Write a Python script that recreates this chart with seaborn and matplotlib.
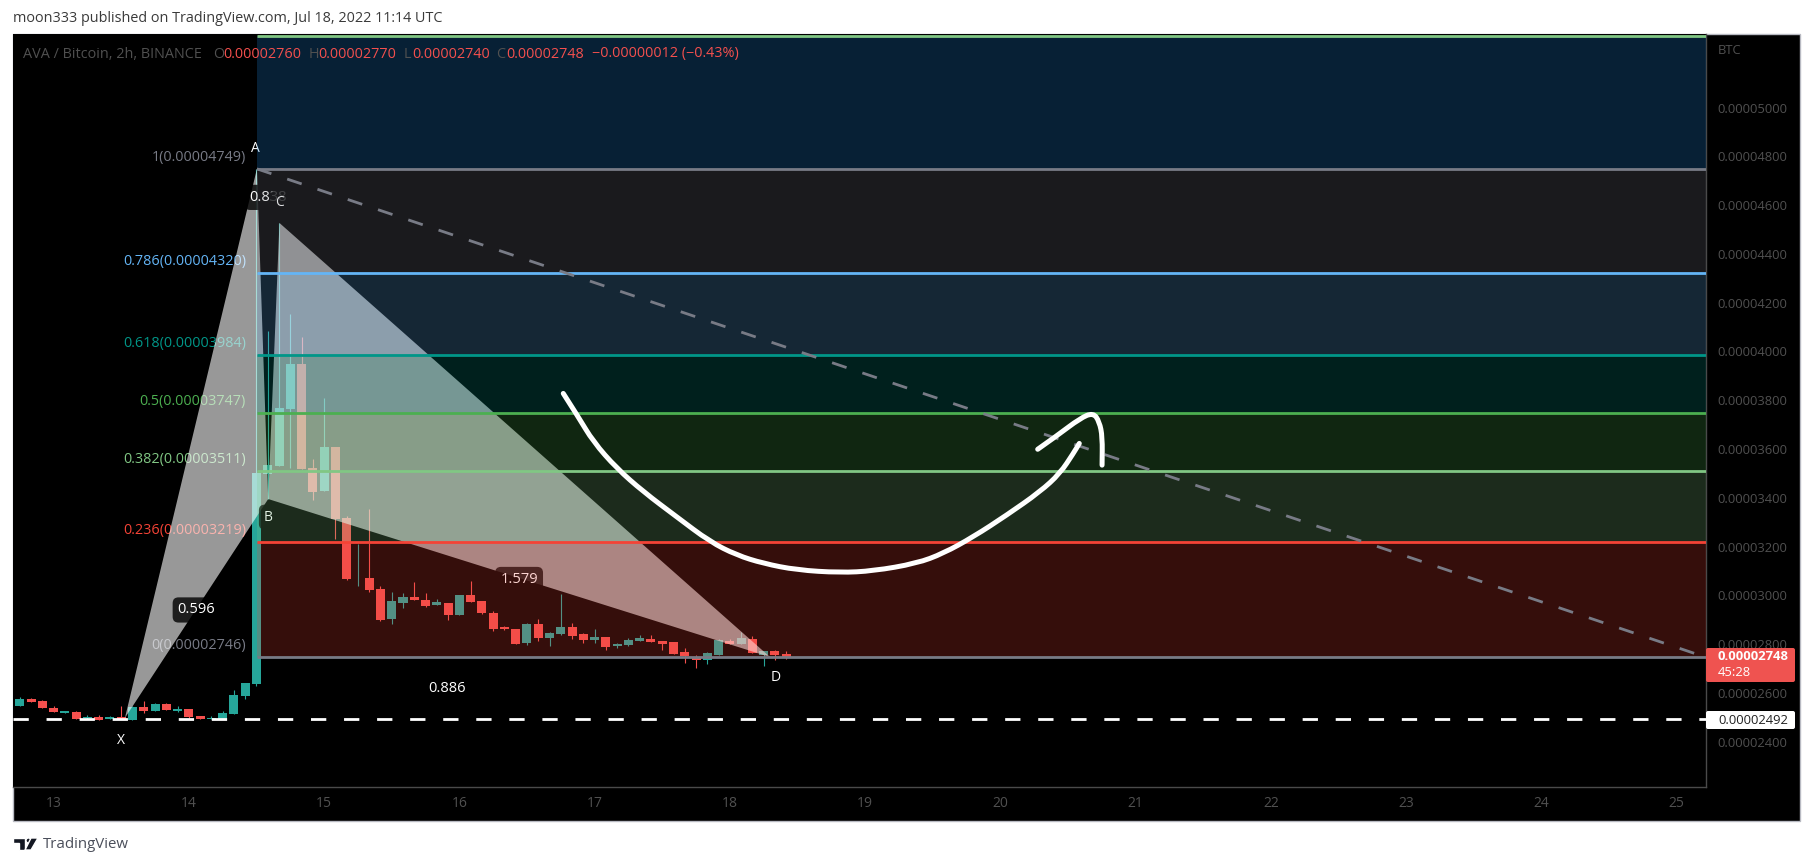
import numpy as np
import pandas as pd
import matplotlib
matplotlib.use('Agg')
import matplotlib.pyplot as plt
from matplotlib.patches import Polygon, Rectangle, Ellipse, FancyBboxPatch, PathPatch
from matplotlib.path import Path
from matplotlib.transforms import Affine2D
import seaborn as sns

# prices are in satoshi (1e-8 BTC), x is the 2h bar number
opens = [2546, 2575, 2566, 2538, 2517, 2521, 2497, 2501, 2493, 2501, 2489, 2542, 2526, 2554, 2526, 2534, 2505, 2493, 2493, 2513,
         2587, 2636, 3499, 3530, 3764, 3948, 3522, 3428, 3608, 3317, 3071, 3071, 3026, 2903, 2968, 2993, 2981, 2960, 2968, 2919,
         3001, 2977, 2927, 2870, 2862, 2804, 2882, 2825, 2841, 2870, 2841, 2817, 2829, 2792, 2796, 2812, 2821, 2812, 2808, 2767,
         2743, 2735, 2755, 2812, 2800, 2821, 2755, 2771, 2760]
highs = [2583, 2580, 2571, 2546, 2526, 2526, 2509, 2509, 2505, 2546, 2546, 2566, 2558, 2558, 2546, 2534, 2505, 2505, 2526, 2612,
         2640, 4749, 4084, 4527, 4154, 4059, 3559, 3809, 3608, 3325, 3210, 3354, 3038, 3013, 3009, 3054, 3009, 2985, 2968, 3001,
         3059, 2977, 2935, 2874, 2862, 2886, 2903, 2849, 3005, 2886, 2845, 2862, 2829, 2804, 2825, 2837, 2837, 2812, 2808, 2784,
         2755, 2767, 2821, 2821, 2849, 2833, 2771, 2776, 2770]
lows = [2546, 2562, 2538, 2521, 2517, 2493, 2493, 2489, 2493, 2493, 2489, 2517, 2526, 2530, 2521, 2497, 2493, 2493, 2493, 2513,
        2575, 2629, 3395, 3530, 3522, 3518, 3391, 3428, 3231, 3063, 3038, 3013, 2895, 2882, 2948, 2981, 2952, 2960, 2899, 2919,
        2972, 2923, 2854, 2858, 2800, 2796, 2812, 2792, 2837, 2821, 2804, 2804, 2776, 2784, 2792, 2812, 2808, 2776, 2759, 2722,
        2702, 2718, 2755, 2800, 2800, 2763, 2710, 2735, 2740]
closes = [2575, 2562, 2538, 2521, 2526, 2493, 2501, 2489, 2501, 2493, 2542, 2526, 2554, 2530, 2534, 2501, 2493, 2497, 2517, 2591,
          2640, 3502, 3534, 3768, 3948, 3518, 3424, 3608, 3313, 3067, 3073, 3022, 2899, 2977, 2993, 2981, 2956, 2972, 2919, 3001,
          2972, 2927, 2862, 2862, 2800, 2882, 2825, 2845, 2870, 2833, 2817, 2829, 2788, 2800, 2817, 2825, 2808, 2800, 2759, 2751,
          2735, 2763, 2817, 2800, 2825, 2763, 2771, 2755, 2748]

# fib levels, top to bottom
fib_ratios = ['1', '0.786', '0.618', '0.5', '0.382', '0.236', '0']
fib_prices = [4749, 4320, 3984, 3747, 3511, 3219, 2746]
fib_labels = ['0.00004749', '0.00004320', '0.00003984', '0.00003747', '0.00003511', '0.00003219', '0.00002746']
fib_colors = ['#787b86', '#64b5f6', '#009688', '#4caf50', '#81c784', '#f44336', '#787b86']
fib_top = 5293
fib_top_color = '#81c784'
fib_top_fill = '#2196f3'

# XABCD harmonic pattern
pat_names = ['X', 'A', 'B', 'C', 'D']
pat_x = [9.33, 21.04, 22.04, 23.04, 66.56]
pat_y = [2497, 4749, 3395, 4527, 2747]
pat_offsets = [(-3, -16.5), (-1, 14.5), (0, -13), (0, 14.5), (4, -14.5)]

# hand drawn arrow
curve_x = [48.22, 49.55, 50.88, 52.96, 55.32, 58.28, 61.23, 63.6, 65.96, 68.93, 72.77, 75.72, 79.57, 81.93, 84.6, 87.56, 90.52, 92.29, 93.47, 94]
curve_y = [3828, 3732, 3630, 3521, 3425, 3322, 3220, 3165, 3131, 3104, 3093, 3100, 3131, 3172, 3240, 3329, 3425, 3500, 3582, 3623]
head_x = [90.31, 92, 94.07, 95.24, 95.78, 96.05, 96.02]
head_y = [3599, 3654, 3726, 3749, 3712, 3650, 3534]

y_ticks = [2400, 2600, 2800, 3000, 3200, 3400, 3600, 3800, 4000, 4200, 4400, 4600, 4800, 5000]
x_ticks = [3, 15, 27, 39, 51, 63, 75, 87, 99, 111, 123, 135, 147]
x_labels = ['13', '14', '15', '16', '17', '18', '19', '20', '21', '22', '23', '24', '25']
support = 2492
x_left, x_right = -0.6, 149.6
y_low, y_high = 2214, 5302

GREEN = '#26a69a'
RED = '#f5504e'
AXIS_TXT = '#505050'

W, H = 1814, 866
sns.set_theme(style='dark')
plt.rcParams['font.family'] = ['Open Sans', 'DejaVu Sans']
plt.rcParams['lines.scale_dashes'] = False


def smooth_stroke(ax, xs, ys, lw=3.6, zorder=8):
    # quadratic segments through the midpoints, the pen stroke has no corners
    pts = list(zip(xs, ys))
    verts = [pts[0]]
    codes = [Path.MOVETO]
    for i in range(1, len(pts) - 1):
        mid = ((pts[i][0] + pts[i + 1][0]) / 2, (pts[i][1] + pts[i + 1][1]) / 2)
        verts += [pts[i], mid]
        codes += [Path.CURVE3, Path.CURVE3]
    verts.append(pts[-1])
    codes.append(Path.LINETO)
    ax.add_patch(PathPatch(Path(verts, codes), facecolor='none', edgecolor='white', lw=lw,
                           capstyle='round', joinstyle='round', zorder=zorder))


fig = plt.figure(figsize=(W / 100, H / 100), dpi=100, facecolor='white')
px = Affine2D().scale(1, -1).translate(0, H)  # top-left pixel coords for the page furniture

fig.add_artist(Rectangle((13, 34), 1787, 787, transform=px, facecolor='black', edgecolor='#b8bac2', lw=1, zorder=0))
ax = fig.add_axes([13 / W, 1 - 787 / H, 1693 / W, 753 / H], facecolor='black', zorder=1)

# candles
df = pd.DataFrame({'open': opens, 'high': highs, 'low': lows, 'close': closes})
df['bar'] = df.index
df['color'] = np.where(df['close'] >= df['open'], GREEN, RED)
ax.vlines(df['bar'], df['low'], df['high'], colors=df['color'], lw=0.8, zorder=2)
ax.bar(df['bar'], (df['close'] - df['open']).abs(), bottom=df[['open', 'close']].min(axis=1), width=0.8,
       color=df['color'], linewidth=0, zorder=2.1)

# fib labels sit under the pattern, so they dim where it covers them
for ratio, lab, price, col in zip(fib_ratios, fib_labels, fib_prices, fib_colors):
    ax.annotate(f'{ratio}({lab})', xy=(21.04, price), xytext=(-8, 3), textcoords='offset points',
                ha='right', va='bottom', color=col, fontsize=10.4, zorder=3)

# pattern
ax.fill([pat_x[0], pat_x[1], pat_x[2]], [pat_y[0], pat_y[1], pat_y[2]], color='white', alpha=0.6, lw=0, zorder=4)
ax.fill([pat_x[2], pat_x[3], pat_x[4]], [pat_y[2], pat_y[3], pat_y[4]], color='white', alpha=0.6, lw=0, zorder=4)
pill = dict(boxstyle='round,pad=0.35,rounding_size=0.4', facecolor='black', alpha=0.8, edgecolor='none')
ratio_pairs = [(0, 2, '0.596'), (1, 3, '0.838'), (2, 4, '1.579'), (0, 4, '0.886')]
for a, b, txt in ratio_pairs:
    ax.text((pat_x[a] + pat_x[b]) / 2, (pat_y[a] + pat_y[b]) / 2 - 6, txt, ha='center', va='center',
            color='white', fontsize=10.5, bbox=pill, zorder=4.4)
for name, x, y, off in zip(pat_names, pat_x, pat_y, pat_offsets):
    ax.annotate(name, xy=(x, y), xytext=off, textcoords='offset points', ha='center', va='center',
                color='white', fontsize=10, bbox=pill, zorder=4.5)

# fib zones, drawn over candles and pattern
zone_edges = [fib_top] + fib_prices
zone_colors = [fib_top_fill] + fib_colors[:-1]
for i, col in enumerate(zone_colors):
    ax.fill_between([21.04, x_right], zone_edges[i + 1], zone_edges[i], color=col, alpha=0.22, lw=0, zorder=5)
ax.hlines(fib_prices, 21.04, x_right, colors=fib_colors, lw=2, zorder=6)
ax.hlines(fib_top, 21.04, x_right, colors=fib_top_color, lw=2, zorder=6)

# trend line and support
sns.lineplot(x=[21.04, x_right], y=[4749, 2746], color='#787b86', lw=2, linestyle=(0, (11, 12)), ax=ax,
             sort=False, estimator=None, legend=False, zorder=6.5, dash_capstyle='butt')
sns.lineplot(x=[x_left, x_right], y=[support, support], color='white', lw=2, linestyle=(0, (11, 12.8)), ax=ax,
             sort=False, estimator=None, legend=False, zorder=6.5, dash_capstyle='butt')

smooth_stroke(ax, curve_x, curve_y)
smooth_stroke(ax, head_x, head_y)

ax.set_xlim(x_left, x_right)
ax.set_ylim(y_low, y_high)
ax.set_xlabel('')
ax.set_ylabel('')
ax.set_xticks(x_ticks, x_labels)
ax.yaxis.tick_right()
ax.set_yticks(y_ticks, [f'{v * 1e-8:.8f}' for v in y_ticks])
ax.tick_params(axis='y', length=0, pad=8.5, labelsize=9.4, labelcolor=AXIS_TXT)
ax.tick_params(axis='x', length=0, pad=6.5, labelsize=10, labelcolor=AXIS_TXT)
ax.grid(False)
for side in ['top', 'left']:
    ax.spines[side].set_visible(False)
for side in ['right', 'bottom']:
    ax.spines[side].set_color('#4a4a4a')
    ax.spines[side].set_linewidth(1)

# page text
fig.text(13, 18, 'moon333 published on TradingView.com, Jul 18, 2022 11:14 UTC', transform=px, fontsize=10.4,
         color='#3a3a3a', va='center', zorder=9)
hdr = [(23, 'AVA / Bitcoin, 2h, BINANCE', AXIS_TXT), (213, 'O', AXIS_TXT), (223.5, '0.00002760', RED), (309, 'H', AXIS_TXT),
       (318, '0.00002770', RED), (404, 'L', AXIS_TXT), (412, '0.00002740', RED), (496, 'C', AXIS_TXT),
       (506, '0.00002748', RED), (592, '−0.00000012 (−0.43%)', RED)]
for x, txt, col in hdr:
    fig.text(x, 54, txt, transform=px, fontsize=10.4, color=col, va='center', zorder=9)
fig.text(1718, 50, 'BTC', transform=px, fontsize=9.4, color=AXIS_TXT, va='center', zorder=9)

# last price and support tags
fig.add_artist(FancyBboxPatch((1706, 648), 89, 34, boxstyle='round,pad=0,rounding_size=2', transform=px,
                              facecolor='#ef5350', edgecolor='none', zorder=7))
fig.text(1718, 657, '0.00002748', transform=px, fontsize=9.4, fontweight='bold', color='white', va='center', zorder=9)
fig.text(1718, 673, '45:28', transform=px, fontsize=9.4, color='white', va='center', zorder=9)
fig.add_artist(FancyBboxPatch((1706, 711), 89, 18, boxstyle='round,pad=0,rounding_size=2', transform=px,
                              facecolor='white', edgecolor='none', zorder=7))
fig.text(1718, 720, '0.00002492', transform=px, fontsize=9.4, color='#222222', va='center', zorder=9)

# logo
fig.add_artist(Polygon([(13, 838), (25, 838), (25, 850), (19, 850), (19, 843), (13, 843)], transform=px, facecolor='#131722', zorder=9))
fig.add_artist(Ellipse((28.5, 840.5), 5, 5, transform=px, facecolor='#131722', zorder=9))
fig.add_artist(Polygon([(31, 838), (38, 838), (31, 850), (25, 850)], transform=px, facecolor='#131722', zorder=9))
fig.text(43, 845, 'TradingView', transform=px, fontsize=10.8, color='#4a4e5a', va='center', zorder=9)

plt.savefig('out.png', dpi=100)
